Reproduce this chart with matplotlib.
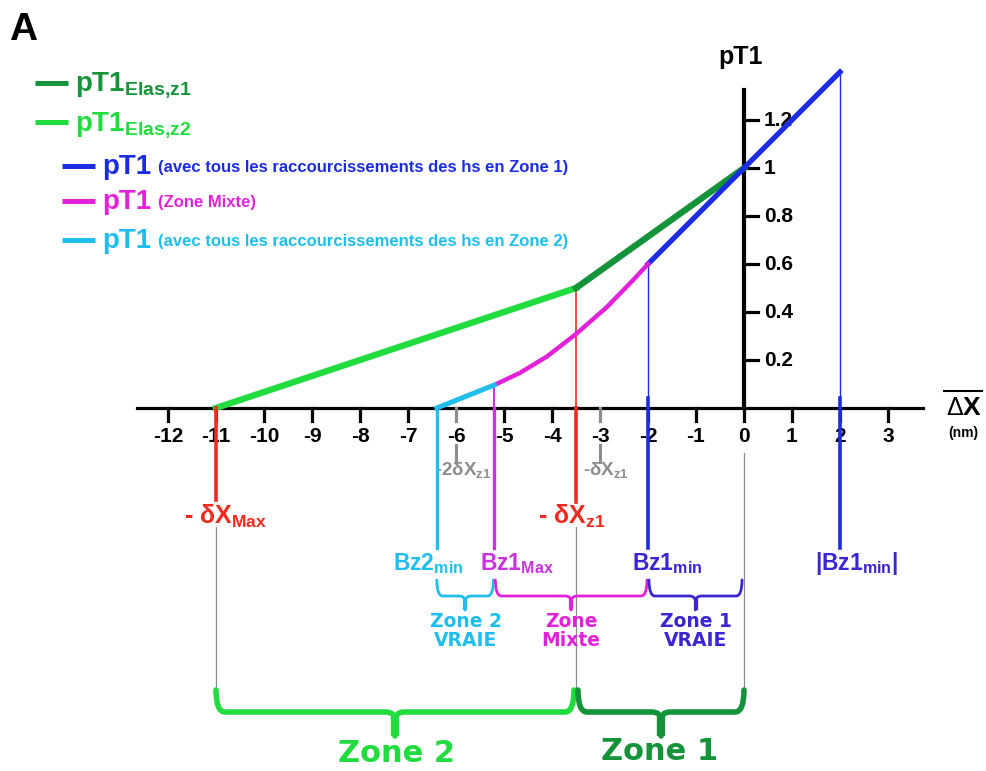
import matplotlib
matplotlib.use("Agg")
import matplotlib.pyplot as plt
from matplotlib.path import Path
from matplotlib.patches import PathPatch
from matplotlib.transforms import Affine2D
import numpy as np

plt.rcParams['font.family'] = ['Liberation Sans', 'DejaVu Sans']
plt.rcParams['font.weight'] = 'bold'
plt.rcParams['mathtext.fontset'] = 'custom'
plt.rcParams['mathtext.rm'] = 'Liberation Sans'
plt.rcParams['mathtext.bf'] = 'Liberation Sans:bold'
plt.rcParams['mathtext.default'] = 'bf'

# colours
DARK_GREEN = '#15933a'
LIGHT_GREEN = '#20dc3e'
BLUE = '#1b2de2'
VIOLET = '#3a25d2'
MAGENTA = '#e222d8'
PURPLE = '#c932de'
CYAN = '#1fbeef'
RED = '#f02a1e'
GRAY = '#8c8c8c'

# axis ticks
x_ticks = np.arange(-12, 4)
y_ticks = [0.2, 0.4, 0.6, 0.8, 1.0, 1.2]
y_tick_labels = ['0.2', '0.4', '0.6', '0.8', '1', '1.2']

# pT1 curves (x in nm)
elas_z2_x = [-11.0, -3.5]
elas_z2_y = [0.0, 0.5]
elas_z1_x = [-3.5, 0.0]
elas_z1_y = [0.5, 1.0]
zone1_x = [-2.0, 0.0, 2.0]
zone1_y = [0.6, 1.0, 1.4]
mixte_x = [-5.2, -4.67, -4.11, -3.5, -2.86, -2.31, -2.0]
mixte_y = [0.096, 0.146, 0.214, 0.308, 0.42, 0.533, 0.6]
zone2_x = [-6.4, -5.2]
zone2_y = [0.0, 0.096]

# landmarks on the x axis
dx_max = -11.0
dx_z1 = -3.5
bz2_min = -6.4
bz1_max = -5.2
bz1_min = -2.0
abs_bz1_min = 2.0
gray_marks = [-6, -3]

W, H = 987, 771
X0, Y0 = 744, 408          # pixel position of the origin
SX, SY = 48.0, 240.0       # pixels per nm / per pT1 unit

fig = plt.figure(figsize=(W / 100, H / 100), dpi=100)
ax = fig.add_axes([0, 0, 1, 1])
ax.set_xlim(-X0 / SX, (W - X0) / SX)
ax.set_ylim((Y0 - H) / SY, Y0 / SY)
ax.axis('off')

# pixel (top-left origin) transform for annotations
img = Affine2D().scale(1 / W, -1 / H).translate(0, 1) + fig.transFigure


def px(v):
    return (v - X0) / SX


def py(v):
    return (Y0 - v) / SY


# axes
ax.plot([px(137), px(923)], [0, 0], color='black', lw=2.3, zorder=2)
ax.plot([0, 0], [0, py(90)], color='black', lw=3.0, zorder=2)
for t in x_ticks:
    c = GRAY if t in gray_marks else 'black'
    ax.plot([t, t], [0, py(421)], color=c, lw=2.3, zorder=2)
    ax.text(t, py(437), f'{t}', ha='center', va='center', fontsize=15, zorder=3)
for v, lab in zip(y_ticks, y_tick_labels):
    ax.plot([0, px(758)], [v, v], color='black', lw=2.3, zorder=2)
    ax.text(px(764), v, lab, ha='left', va='center', fontsize=15, zorder=3)

ax.text(741, 57, 'pT1', transform=img, ha='center', va='center', fontsize=18)
ax.text(955, 408, 'Δ', transform=img, ha='center', va='center', fontsize=18,
        fontweight='normal')
ax.text(972, 408, 'X', transform=img, ha='center', va='center', fontsize=19)
ax.plot([944, 982], [391, 391], color='black', lw=1.5, transform=img)
ax.text(963, 433, '(nm)', transform=img, ha='center', va='center', fontsize=10)

# curves
ax.plot(elas_z2_x, elas_z2_y, color=LIGHT_GREEN, lw=4.6, zorder=4)
ax.plot(elas_z1_x, elas_z1_y, color=DARK_GREEN, lw=4.6, zorder=4)
ax.plot(zone1_x, zone1_y, color=BLUE, lw=3.8, zorder=5)
ax.plot(mixte_x, mixte_y, color=MAGENTA, lw=3.2, zorder=5,
        solid_joinstyle='round')
ax.plot(zone2_x, zone2_y, color=CYAN, lw=3.6, zorder=5)

# drop lines to the labels
ax.plot([dx_max, dx_max], [0, py(500)], color=RED, lw=2.6, zorder=4)
ax.plot([dx_z1, dx_z1], [elas_z1_y[0], 0], color=RED, lw=1.2, zorder=3)
ax.plot([dx_z1, dx_z1], [0, py(502)], color=RED, lw=2.6, zorder=4)
ax.plot([bz2_min, bz2_min], [0, py(548)], color=CYAN, lw=2.4, zorder=4)
ax.plot([bz1_max, bz1_max], [mixte_y[0], 0], color=PURPLE, lw=1.4, zorder=3)
ax.plot([bz1_max, bz1_max], [0, py(548)], color=PURPLE, lw=2.4, zorder=4)
for xb, yb in [(bz1_min, zone1_y[0]), (abs_bz1_min, zone1_y[-1])]:
    ax.plot([xb, xb], [yb, 0], color=BLUE, lw=1.0, zorder=3)
    ax.plot([xb, xb], [py(398), py(548)], color=BLUE, lw=2.6, zorder=4)

# thin gray guides down to the zone braces
for xg, ytop in [(dx_max, 527), (dx_z1, 527), (0, 453)]:
    ax.plot([xg, xg], [py(ytop), py(691)], color=GRAY, lw=0.9, zorder=1)

# gray -dX marks under the axis
for t in gray_marks:
    ax.plot([t, t], [py(445), py(462)], color=GRAY, lw=2.2)
ax.text(gray_marks[0] + 0.15, py(470), r'-2δX$_{z1}$', ha='center', va='center',
        fontsize=13.5, color=GRAY)
ax.text(gray_marks[1] + 0.13, py(470), r'-δX$_{z1}$', ha='center', va='center',
        fontsize=13.5, color=GRAY)

# landmark labels
ax.text(226, 524, r'- δX$_{Max}$', transform=img, ha='center', va='baseline',
        fontsize=18, color=RED)
ax.text(572, 524, r'- δX$_{z1}$', transform=img, ha='center', va='baseline',
        fontsize=18, color=RED)
ax.text(428, 570, r'Bz2$_{min}$', transform=img, ha='center', va='baseline',
        fontsize=16.5, color=CYAN)
ax.text(517, 570, r'Bz1$_{Max}$', transform=img, ha='center', va='baseline',
        fontsize=16.5, color=PURPLE)
ax.text(667, 570, r'Bz1$_{min}$', transform=img, ha='center', va='baseline',
        fontsize=16.5, color=VIOLET)
ax.text(857, 570, r'|Bz1$_{min}$|', transform=img, ha='center', va='baseline',
        fontsize=16.5, color=VIOLET)


def brace(x0, x1, y_tip, y_bar, y_spike, r, color, lw):
    xm = (x0 + x1) / 2
    verts = [(x0, y_tip), (x0, y_bar), (x0 + r, y_bar),
             (xm - r, y_bar), (xm, y_bar), (xm, y_bar + r), (xm, y_spike),
             (xm, y_bar + r), (xm, y_bar), (xm + r, y_bar),
             (x1 - r, y_bar), (x1, y_bar), (x1, y_tip)]
    codes = [Path.MOVETO, Path.CURVE3, Path.CURVE3,
             Path.LINETO, Path.CURVE3, Path.CURVE3, Path.LINETO,
             Path.MOVETO, Path.CURVE3, Path.CURVE3,
             Path.LINETO, Path.CURVE3, Path.CURVE3]
    ax.add_patch(PathPatch(Path(verts, codes), transform=img, fill=False,
                           edgecolor=color, lw=lw, capstyle='round',
                           joinstyle='round', zorder=4))
    # thicker stem in the middle
    ax.plot([xm, xm], [y_bar + r * 0.5, y_spike], color=color, lw=lw * 1.5,
            transform=img, solid_capstyle='butt', zorder=4)


def bx(v):
    return X0 + SX * v


# small braces: true zones and mixed zone
brace(bx(bz2_min), bx(bz1_max) - 1, 580, 596, 610, 6, CYAN, 2.0)
brace(bx(bz1_max) + 1, bx(bz1_min) - 1, 580, 596, 610, 6, MAGENTA, 2.0)
brace(bx(bz1_min) + 1, bx(0) - 2, 580, 596, 610, 6, VIOLET, 2.0)
zone_font = ['DejaVu Sans']
for xc, txt, c in [((bz2_min + bz1_max) / 2, 'Zone 2\nVRAIE', CYAN),
                   ((bz1_max + bz1_min) / 2, 'Zone\nMixte', MAGENTA),
                   ((bz1_min + 0) / 2, 'Zone 1\nVRAIE', VIOLET)]:
    ax.text(bx(xc), 631, txt, transform=img, ha='center', va='center',
            fontsize=13.5, color=c, family=zone_font, linespacing=1.0)

# large braces: Zone 2 and Zone 1
brace(bx(dx_max), bx(dx_z1) - 2, 690, 712, 736, 9, LIGHT_GREEN, 4.0)
brace(bx(dx_z1) + 2, bx(0), 690, 712, 736, 9, DARK_GREEN, 4.0)
ax.text(bx((dx_max + dx_z1) / 2), 754, 'Zone 2', transform=img, ha='center',
        va='center', fontsize=22, color=LIGHT_GREEN, family=zone_font)
ax.text(bx(dx_z1 / 2), 752, 'Zone 1', transform=img, ha='center',
        va='center', fontsize=22, color=DARK_GREEN, family=zone_font)

# panel letter
ax.text(9, 40, 'A', transform=img, ha='left', va='baseline', fontsize=28)

# legend
legend_rows = [
    (35, 83, 91, DARK_GREEN, r'pT1$_{Elas{,}z1}$', None),
    (35, 122, 130, LIGHT_GREEN, r'pT1$_{Elas{,}z2}$', None),
    (62, 166, 174, BLUE, 'pT1', '(avec tous les raccourcissements des hs en Zone 1)'),
    (62, 201, 209, MAGENTA, 'pT1', '(Zone Mixte)'),
    (62, 240, 248, CYAN, 'pT1', '(avec tous les raccourcissements des hs en Zone 2)'),
]
for x0, yl, yb, c, main, extra in legend_rows:
    ax.plot([x0, x0 + 33], [yl, yl], color=c, lw=3.6, transform=img,
            solid_capstyle='butt')
    ax.text(x0 + 40, yb, main, transform=img, ha='left', va='baseline',
            fontsize=20, color=c)
    if extra:
        ax.text(x0 + 96, yb - 2, extra, transform=img, ha='left', va='baseline',
                fontsize=12, color=c)

fig.savefig('out.png', dpi=100)
